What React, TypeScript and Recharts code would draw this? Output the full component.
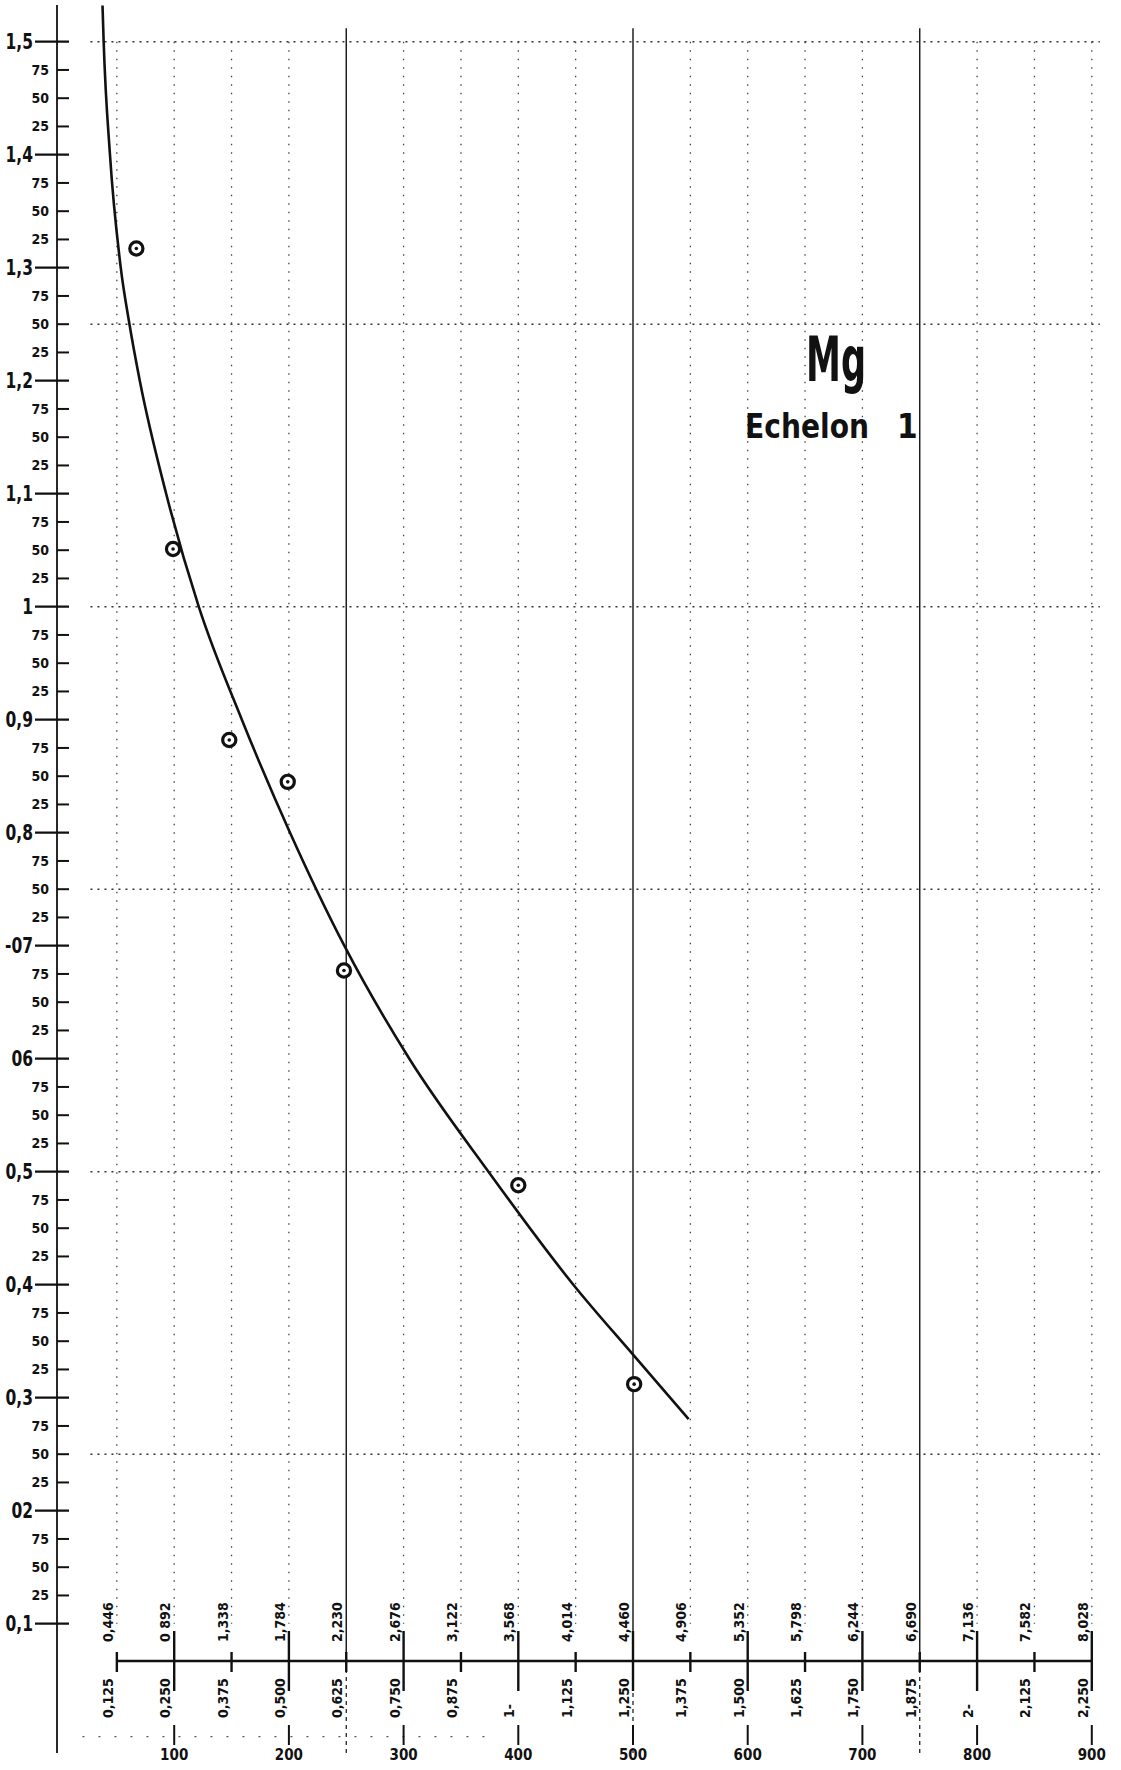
import React from "react";
import { ComposedChart, Line, Scatter, XAxis, YAxis, ReferenceLine } from "recharts";

const W = 1121;
const H = 1770;

// Axis domains (value space of the graph paper)
const X_MIN = -2.18;
const X_MAX = 925.46;
const Y_MIN = -0.01442;
const Y_MAX = 1.53248;

// Measured points (⊙)
const pointX = [67, 99, 148, 199, 248, 400, 501];
const pointY = [1.317, 1.051, 0.882, 0.845, 0.678, 0.488, 0.312];

// Hand-drawn curve
const curveX = [37.5, 38.5, 44.0, 53.4, 61.0, 70.0, 93.0, 121.4, 159.0, 201.0, 248.3, 305.0, 374.0, 448.0, 501.0, 548.5];
const curveY = [1.532, 1.5, 1.4, 1.3, 1.25, 1.2, 1.1, 1.0, 0.9, 0.8, 0.7, 0.6, 0.5, 0.4, 0.337, 0.281];

// Left axis
const yMajorValues = [1.5, 1.4, 1.3, 1.2, 1.1, 1.0, 0.9, 0.8, 0.7, 0.6, 0.5, 0.4, 0.3, 0.2, 0.1];
const yMajorLabels = ["1,5", "1,4", "1,3", "1,2", "1,1", "1", "0,9", "0,8", "-07", "06", "0,5", "0,4", "0,3", "02", "0,1"];
const yMinorOffsets = [0.025, 0.05, 0.075];
const yMinorLabels = ["75", "50", "25"];

// Bottom axis
const xBottomTicks = [100, 200, 300, 400, 500, 600, 700, 800, 900];
const xBottomLabels = ["100", "200", "300", "400", "500", "600", "700", "800", "900"];

// Secondary double scale drawn across the bottom of the sheet
const scaleX = [50, 100, 150, 200, 250, 300, 350, 400, 450, 500, 550, 600, 650, 700, 750, 800, 850, 900];
const scaleTopLabels = ["0,446", "0 892", "1,338", "1,784", "2,230", "2,676", "3,122", "3,568", "4,014", "4,460", "4,906", "5,352", "5,798", "6,244", "6,690", "7,136", "7,582", "8,028"];
const scaleBottomLabels = ["0,125", "0,250", "0,375", "0,500", "0,625", "0,750", "0,875", "1-", "1,125", "1,250", "1,375", "1,500", "1,625", "1,750", "1,875", "2-", "2,125", "2,250"];
const SCALE_Y = 0.067;

// Grid
const gridHValues = [1.5, 1.25, 1.0, 0.75, 0.5, 0.25];
const gridVDotted = [50, 100, 150, 200, 300, 350, 400, 450, 550, 600, 650, 700, 800, 850, 900];
const gridVSolid = [250, 500, 750];

const NARROW = "'Liberation Sans Narrow', 'DejaVu Sans Condensed', 'Roboto Condensed', sans-serif";
const COND = "'DejaVu Sans Condensed', 'Liberation Sans Narrow', sans-serif";
const INK = "#111";

const pointData = pointX.map((x, i) => ({ x, y: pointY[i] }));
const curveData = curveX.map((x, i) => ({ x, y: curveY[i] }));
const scaleData = scaleX.map((x, i) => ({ x, y: SCALE_Y, top: scaleTopLabels[i], bottom: scaleBottomLabels[i] }));

const yTicks: number[] = [];
const yLabelMap = new Map<string, { label: string; major: boolean }>();
yMajorValues.forEach((v, i) => {
  yTicks.push(v);
  yLabelMap.set(v.toFixed(3), { label: yMajorLabels[i], major: true });
  if (i < yMajorValues.length - 1) {
    yMinorOffsets.forEach((o, j) => {
      const mv = +(v - o).toFixed(3);
      yTicks.push(mv);
      yLabelMap.set(mv.toFixed(3), { label: yMinorLabels[j], major: false });
    });
  }
});
const xLabelMap = new Map<number, string>();
xBottomTicks.forEach((v, i) => xLabelMap.set(v, xBottomLabels[i]));

const YTick = (props: any) => {
  const { x, y, payload } = props;
  const info = yLabelMap.get(Number(payload.value).toFixed(3));
  if (!info) return null;
  if (info.major) {
    return (
      <g>
        <line x1={x - 22} x2={x + 12} y1={y} y2={y} stroke={INK} strokeWidth={2.2} />
        <text
          transform={`translate(${x - 24},${y + 7}) scale(0.82,1)`}
          textAnchor="end"
          fontFamily={NARROW}
          fontWeight="bold"
          fontSize={21}
          fill={INK}
        >
          {info.label}
        </text>
      </g>
    );
  }
  return (
    <g>
      <line x1={x} x2={x + 12} y1={y} y2={y} stroke={INK} strokeWidth={2} />
      <text x={x - 8} y={y + 5} textAnchor="end" fontFamily={NARROW} fontWeight="bold" fontSize={14} fill={INK}>
        {info.label}
      </text>
    </g>
  );
};

const XTick = (props: any) => {
  const { x, y, payload } = props;
  const label = xLabelMap.get(Number(payload.value));
  return (
    <g>
      <line x1={x} x2={x} y1={y - 28} y2={y - 8} stroke={INK} strokeWidth={2} />
      <text x={x} y={y + 7} textAnchor="middle" fontFamily={NARROW} fontWeight="bold" fontSize={15} fill={INK}>
        {label}
      </text>
    </g>
  );
};

const ScaleMark = (props: any) => {
  const { cx, cy, payload } = props;
  if (cx == null || cy == null) return null;
  const major = payload.x % 100 === 0;
  return (
    <g>
      <line x1={cx} x2={cx} y1={major ? cy - 30 : cy - 9} y2={major ? cy + 30 : cy + 11} stroke={INK} strokeWidth={2.4} />
      <text transform={`translate(${cx - 4},${cy - 19}) rotate(-90)`} fontFamily={COND} fontWeight="bold" fontSize={14} fill={INK}>
        {payload.top}
      </text>
      <text transform={`translate(${cx - 4},${cy + 57}) rotate(-90)`} fontFamily={COND} fontWeight="bold" fontSize={14} fill={INK}>
        {payload.bottom}
      </text>
    </g>
  );
};

const PointMark = (props: any) => {
  const { cx, cy } = props;
  if (cx == null || cy == null) return null;
  return (
    <g>
      <circle cx={cx} cy={cy} r={6.6} fill="#fff" stroke={INK} strokeWidth={3.2} />
      <circle cx={cx} cy={cy} r={1.8} fill={INK} />
    </g>
  );
};

export default function App() {
  return (
    <div style={{ position: "absolute", left: 0, top: 0, width: W, height: H, background: "#fff" }}>
      <ComposedChart width={W} height={H} margin={{ top: 5, right: 0, bottom: 0, left: 0 }}>
        <XAxis
          type="number"
          dataKey="x"
          domain={[X_MIN, X_MAX]}
          allowDataOverflow
          ticks={xBottomTicks}
          interval={0}
          axisLine={false}
          tickLine={false}
          tickSize={0}
          tickMargin={0}
          height={17}
          tick={<XTick />}
        />
        <YAxis
          type="number"
          dataKey="y"
          domain={[Y_MIN, Y_MAX]}
          allowDataOverflow
          ticks={yTicks}
          interval={0}
          width={57}
          axisLine={{ stroke: INK, strokeWidth: 1.8 }}
          tickLine={false}
          tickSize={0}
          tickMargin={0}
          tick={<YTick />}
        />
        {gridHValues.map((v) => (
          <ReferenceLine
            key={`h${v}`}
            segment={[{ x: 27, y: v }, { x: 907, y: v }]}
            stroke="#333"
            strokeWidth={1.4}
            strokeDasharray="2 5"
            ifOverflow="visible"
          />
        ))}
        <ReferenceLine
          segment={[{ x: 20, y: 0 }, { x: 380, y: 0 }]}
          stroke="#555"
          strokeWidth={1.2}
          strokeDasharray="2 14"
          ifOverflow="visible"
        />
        {gridVDotted.map((v) => (
          <ReferenceLine
            key={`v${v}`}
            segment={[{ x: v, y: 1.5 }, { x: v, y: 0.1 }]}
            stroke="#444"
            strokeWidth={1.3}
            strokeDasharray="1.5 7"
            ifOverflow="visible"
          />
        ))}
        {gridVSolid.map((v) => (
          <ReferenceLine
            key={`s${v}`}
            segment={[{ x: v, y: 1.512 }, { x: v, y: SCALE_Y }]}
            stroke={INK}
            strokeWidth={1.4}
            ifOverflow="visible"
          />
        ))}
        {gridVSolid.map((v) => (
          <ReferenceLine
            key={`sd${v}`}
            segment={[{ x: v, y: SCALE_Y }, { x: v, y: Y_MIN }]}
            stroke={INK}
            strokeWidth={1.2}
            strokeDasharray="4 4"
            ifOverflow="visible"
          />
        ))}
        <ReferenceLine
          segment={[{ x: 50, y: SCALE_Y }, { x: 900, y: SCALE_Y }]}
          stroke={INK}
          strokeWidth={2.6}
          ifOverflow="visible"
        />
        <Scatter data={scaleData} dataKey="y" shape={<ScaleMark />} isAnimationActive={false} />
        <Line
          data={curveData}
          dataKey="y"
          type="monotone"
          stroke={INK}
          strokeWidth={2.6}
          dot={false}
          activeDot={false}
          isAnimationActive={false}
        />
        <Scatter data={pointData} dataKey="y" shape={<PointMark />} isAnimationActive={false} />
      </ComposedChart>
      <svg width={W} height={H} style={{ position: "absolute", left: 0, top: 0, pointerEvents: "none" }}>
        <text x={806} y={381} fontFamily={NARROW} fontWeight="bold" fontSize={62} fill={INK} textLength={60} lengthAdjust="spacingAndGlyphs">
          Mg
        </text>
        <text x={745} y={438} fontFamily={NARROW} fontWeight="bold" fontSize={33} fill={INK} textLength={124} lengthAdjust="spacingAndGlyphs">
          Echelon
        </text>
        <text x={897} y={438} fontFamily={NARROW} fontWeight="bold" fontSize={33} fill={INK}>
          1
        </text>
      </svg>
    </div>
  );
}
